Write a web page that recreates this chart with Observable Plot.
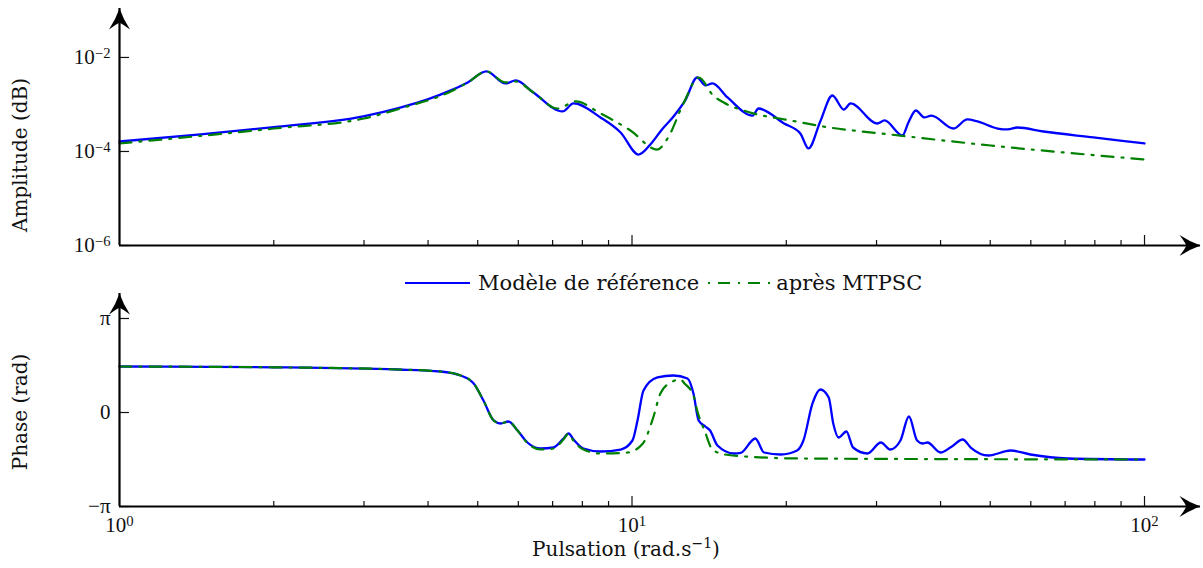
<!DOCTYPE html>
<html><head><meta charset="utf-8">
<script src="https://cdn.jsdelivr.net/npm/d3@7"></script>
<script src="https://cdn.jsdelivr.net/npm/@observablehq/plot@0.6"></script>
<style>
body{margin:0;background:#fff;}
#wrap{position:relative;width:1203px;height:568px;overflow:hidden;font-family:"DejaVu Serif",serif;color:#111;}
#topPanel{position:absolute;left:0;top:0;}
#botPanel{position:absolute;left:0;top:285px;}
.ylab{position:absolute;font-size:20px;white-space:nowrap;transform:translate(-50%,-50%) rotate(-90deg);}
.xlab{position:absolute;font-size:20px;white-space:nowrap;transform:translate(-50%,-50%);}
.xlab sup{font-size:70%;}
#legend{position:absolute;left:405px;top:269px;height:28px;display:flex;align-items:center;font-size:21px;white-space:nowrap;}
</style></head><body>
<div id="wrap">
  <div id="topPanel"></div>
  <div id="botPanel"></div>
  <div class="ylab" style="left:20px;top:155px;">Amplitude (dB)</div>
  <div class="ylab" style="left:20px;top:412px;">Phase (rad)</div>
  <div class="xlab" style="left:626px;top:548px;">Pulsation (rad.s<sup>−1</sup>)</div>
  <div id="legend">
    <svg width="65" height="10"><line x1="0" y1="5" x2="65" y2="5" stroke="#0000ff" stroke-width="2.2"/></svg>
    <span style="margin-left:8px">Modèle de référence</span>
    <svg style="margin-left:9px" width="62" height="10"><line x1="0" y1="5" x2="62" y2="5" stroke="#008000" stroke-width="2.2" stroke-dasharray="2,8,12,8"/></svg>
    <span style="margin-left:6px">après MTPSC</span>
  </div>
</div>
<script>
// ---- data ----
const blueAmpW = [1, 1.44, 2.0, 2.99, 3.53, 3.99, 4.43, 4.78, 5.20, 5.66, 5.93, 6.42, 7.32, 7.69, 8.68, 9.50, 10.3, 10.9, 11.4, 12.05, 12.7, 13.4, 13.9, 14.35, 15.36, 17.2, 17.65, 19.8, 21.3, 22.1, 23.3, 24.6, 25.9, 26.7, 30.1, 31.1, 33.7, 34.6, 35.8, 37.2, 38.4, 42.4, 45.1, 47.2, 51.7, 54.1, 56.5, 63.5, 79.5, 100];
const blueAmp = [1.63e-4, 2.3e-4, 3.3e-4, 5.6e-4, 8.6e-4, 1.28e-3, 1.99e-3, 2.94e-3, 5.04e-3, 2.80e-3, 3.24e-3, 1.80e-3, 7.1e-4, 1.05e-3, 5.3e-4, 2.54e-4, 8.6e-5, 1.48e-4, 2.8e-4, 5.56e-4, 1.22e-3, 3.75e-3, 2.54e-3, 2.80e-3, 1.41e-3, 5.8e-4, 8.2e-4, 3.94e-4, 2.42e-4, 1.16e-4, 4.35e-4, 1.55e-3, 7.8e-4, 1.05e-3, 3.94e-4, 4.57e-4, 2.19e-4, 4.1e-4, 7.45e-4, 5.3e-4, 5.8e-4, 3.08e-4, 4.8e-4, 4.35e-4, 3.08e-4, 2.94e-4, 3.24e-4, 2.66e-4, 1.99e-4, 1.48e-4];

const greenAmpW = [1, 2, 3, 3.53, 4.43, 4.78, 5.20, 5.66, 5.93, 6.42, 7.16, 7.76, 8.68, 9.93, 11.2, 11.73, 12.6, 13.5, 14.4, 15.1, 17.0, 20.4, 23.6, 31.9, 50.1, 100];
const greenAmp = [1.48e-4, 3.08e-4, 5.03e-4, 8.2e-4, 1.89e-3, 2.94e-3, 5.04e-3, 2.94e-3, 3.08e-3, 1.80e-3, 8.2e-4, 1.16e-3, 6.44e-4, 2.80e-4, 1.10e-4, 1.89e-4, 1.05e-3, 3.75e-3, 1.55e-3, 1.10e-3, 6.76e-4, 4.57e-4, 3.40e-4, 2.30e-4, 1.34e-4, 6.76e-5];

const bluePhW = [1, 2.0, 3.49, 4.23, 4.63, 4.91, 5.13, 5.37, 5.54, 5.74, 5.98, 6.25, 6.63, 7.03, 7.35, 7.52, 7.69, 8.04, 8.68, 9.50, 10.02, 10.25, 10.53, 11.21, 12.05, 12.83, 13.18, 13.49, 13.9, 14.2, 14.68, 15.8, 16.3, 17.4, 18.1, 19.5, 21.0, 21.6, 22.5, 23.3, 24.2, 24.7, 25.3, 26.2, 27.0, 28.8, 30.6, 31.9, 33.4, 34.7, 36.0, 36.9, 37.7, 40.0, 41.8, 44.2, 45.8, 49.6, 54.8, 59.9, 70.8, 100];
const bluePh = [1.537, 1.51, 1.437, 1.370, 1.237, 0.969, 0.401, -0.267, -0.368, -0.301, -0.602, -1.003, -1.203, -1.170, -0.869, -0.702, -0.902, -1.203, -1.303, -1.237, -0.936, -0.267, 0.735, 1.170, 1.237, 1.136, 0.635, -0.267, -0.468, -0.602, -1.103, -1.370, -1.350, -0.869, -1.337, -1.404, -1.270, -0.936, 0.301, 0.769, 0.501, -0.368, -0.836, -0.635, -1.170, -1.370, -1.003, -1.237, -0.936, -0.134, -0.936, -1.036, -1.003, -1.337, -1.170, -0.902, -1.170, -1.437, -1.270, -1.404, -1.537, -1.571];

const greenPhW = [1, 2.0, 3.49, 4.23, 4.63, 4.91, 5.13, 5.37, 5.54, 5.74, 5.98, 6.25, 6.63, 7.03, 7.35, 7.52, 7.69, 8.04, 8.68, 9.80, 10.5, 11.0, 11.36, 11.9, 12.43, 12.66, 13.18, 13.4, 13.85, 14.4, 15.7, 21.3, 100];
const greenPh = [1.537, 1.51, 1.437, 1.370, 1.237, 0.969, 0.401, -0.267, -0.368, -0.301, -0.602, -1.020, -1.236, -1.203, -0.90, -0.702, -0.95, -1.236, -1.370, -1.337, -1.036, -0.167, 0.635, 1.003, 1.103, 0.969, 0.568, 0.067, -0.602, -1.270, -1.437, -1.537, -1.571];

const xMajorTicks = [1, 10, 100];
const xMinorTicks = [2, 3, 4, 5, 6, 7, 8, 9, 20, 30, 40, 50, 60, 70, 80, 90];
const ampTicks = [1e-6, 1e-4, 1e-2];
const phaseTicks = [-Math.PI, 0, Math.PI];
const xAxisEnd = 128.6;      // arrow tip of the frequency axis
const ampAxisEnd = 0.110;    // arrow tip of the amplitude axis
const phaseAxisEnd = 3.977;  // arrow tip of the phase axis

// ---- helpers ----
const zip = (w, v) => w.map((d, i) => ({w: d, v: v[i]}));
const supMinus = s => String(s).replace("-", "−");
const pow10Label = d => "10^" + supMinus(Math.round(Math.log10(d)));
const phaseLabel = d => d === 0 ? "0" : (d > 0 ? "π" : "−π");

const stealth = {
  draw(ctx, size) {
    const r = Math.sqrt(size / Math.PI);
    ctx.moveTo(0, 0);
    ctx.quadraticCurveTo(-r * 1.0, -r * 0.35, -r * 2, -r * 1.0);
    ctx.quadraticCurveTo(-r * 1.5, -r * 0.35, -r * 1.35, 0);
    ctx.quadraticCurveTo(-r * 1.5, r * 0.35, -r * 2, r * 1.0);
    ctx.quadraticCurveTo(-r * 1.0, r * 0.35, 0, 0);
    ctx.closePath();
  }
};

const svgStyle = {fontFamily: "'Liberation Serif', serif", fontSize: "21px", color: "#111", overflow: "visible", background: "transparent"};
const dash = "12,8,2,8";

function commonX(showLabels) {
  const m = [
    Plot.axisX({ticks: xMinorTicks, tickSize: 5, dy: -5, tickFormat: () => "", label: null, strokeWidth: 1.2}),
    Plot.axisX({ticks: [10, 100], tickSize: 10, dy: -10, tickFormat: () => "", label: null, strokeWidth: 1.2})
  ];
  if (showLabels) m.push(Plot.axisX({ticks: xMajorTicks, tickSize: 0, tickPadding: 11, tickFormat: pow10Label, label: null}));
  return m;
}

function supify(svg) {
  d3.select(svg).selectAll('g[aria-label$="tick label"] text').each(function () {
    const t = this.textContent;
    const m = t.match(/^(.*?)\^(.*)$/);
    if (!m) return;
    const el = d3.select(this);
    el.selectAll("*").remove();
    el.text(null);
    el.append("tspan").text(m[1]);
    el.append("tspan").attr("dy", "-0.45em").attr("font-size", "70%").text(m[2]);
  });
}

// ---- amplitude panel ----
const ampChart = Plot.plot({
  width: 1203, height: 250,
  marginLeft: 119, marginRight: 3, marginTop: 8, marginBottom: 5,
  style: svgStyle,
  x: {type: "log", domain: [1, xAxisEnd]},
  y: {type: "log", domain: [1e-6, ampAxisEnd]},
  marks: [
    Plot.line(zip(blueAmpW, blueAmp), {x: "w", y: "v", stroke: "#0000ff", strokeWidth: 2.3, curve: "monotone-x"}),
    Plot.line(zip(greenAmpW, greenAmp), {x: "w", y: "v", stroke: "#008000", strokeWidth: 2.2, strokeDasharray: dash, curve: "monotone-x"}),
    Plot.axisY({ticks: ampTicks, tickSize: 0, tickPadding: 9, tickFormat: pow10Label, label: null}),
    Plot.axisY({ticks: ampTicks, tickSize: 10, dx: 10, tickFormat: () => "", label: null, strokeWidth: 1.2}),
    ...commonX(false),
    Plot.ruleY([1e-6], {stroke: "#000", strokeWidth: 2.2}),
    Plot.ruleX([1], {stroke: "#000", strokeWidth: 2.2}),
    Plot.dot([{w: xAxisEnd, v: 1e-6}], {x: "w", y: "v", symbol: stealth, r: 10.5, fill: "#000", stroke: "none"}),
    Plot.dot([{w: 1, v: ampAxisEnd}], {x: "w", y: "v", symbol: stealth, r: 10.5, fill: "#000", stroke: "none", rotate: -90})
  ]
});
supify(ampChart);
document.getElementById("topPanel").appendChild(ampChart);

// ---- phase panel ----
const phaseChart = Plot.plot({
  width: 1203, height: 283,
  marginLeft: 119, marginRight: 3, marginTop: 8, marginBottom: 62,
  style: svgStyle,
  x: {type: "log", domain: [1, xAxisEnd]},
  y: {domain: [-Math.PI, phaseAxisEnd]},
  marks: [
    Plot.line(zip(bluePhW, bluePh), {x: "w", y: "v", stroke: "#0000ff", strokeWidth: 2.3, curve: "monotone-x"}),
    Plot.line(zip(greenPhW, greenPh), {x: "w", y: "v", stroke: "#008000", strokeWidth: 2.2, strokeDasharray: dash, curve: "monotone-x"}),
    Plot.axisY({ticks: phaseTicks, tickSize: 0, tickPadding: 9, tickFormat: phaseLabel, label: null}),
    Plot.axisY({ticks: phaseTicks, tickSize: 10, dx: 10, tickFormat: () => "", label: null, strokeWidth: 1.2}),
    ...commonX(true),
    Plot.ruleY([-Math.PI], {stroke: "#000", strokeWidth: 2.2}),
    Plot.ruleX([1], {stroke: "#000", strokeWidth: 2.2}),
    Plot.dot([{w: xAxisEnd, v: -Math.PI}], {x: "w", y: "v", symbol: stealth, r: 10.5, fill: "#000", stroke: "none"}),
    Plot.dot([{w: 1, v: phaseAxisEnd}], {x: "w", y: "v", symbol: stealth, r: 10.5, fill: "#000", stroke: "none", rotate: -90})
  ]
});
supify(phaseChart);
document.getElementById("botPanel").appendChild(phaseChart);
</script>
</body></html>
